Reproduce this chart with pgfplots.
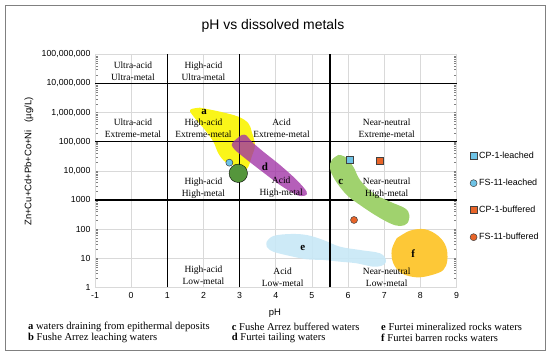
\documentclass[border=0pt]{standalone}
\usepackage{pgfplots}
\pgfplotsset{compat=1.18}
\usepackage{fontspec}
\setmainfont{Liberation Serif}
\setsansfont{Liberation Sans}
\newfontfamily\arial{Liberation Sans}
\definecolor{ya}{RGB}{250,245,25}
\definecolor{pd}{RGB}{160,50,165}
\definecolor{gb}{RGB}{85,150,60}
\definecolor{gc}{RGB}{160,210,110}
\definecolor{be}{RGB}{200,232,246}
\definecolor{of}{RGB}{253,200,55}
\definecolor{mblue}{RGB}{110,195,230}
\definecolor{morange}{RGB}{232,100,40}
\definecolor{gridc}{RGB}{217,217,217}
\begin{document}
\begin{tikzpicture}[x=1bp,y=1bp]
\useasboundingbox (0,0) rectangle (550,356);
\draw[gray, line width=0.8bp] (5,5.5) rectangle (545,350.5);
\node[font=\arial\fontsize{14}{16}\selectfont] at (273,330) {pH vs dissolved metals};
\node[font=\arial\fontsize{9.5}{11}\selectfont] at (275,43) {pH};
\node[font=\arial\fontsize{9.5}{11}\selectfont, rotate=90] at (29,194.5) {Zn+Cu+Cd+Pb+Co+Ni\ \ \ (µg/L)};
\begin{axis}[at={(95bp,68.7bp)}, anchor=south west, scale only axis,
  width=361.5bp, height=233bp,
  xmin=-1, xmax=9, ymin=1, ymax=1e8, ymode=log,
  xtick={-1,0,...,9}, xticklabels={-1,0,1,2,3,4,5,6,7,8,9},
  ytick={1,10,100,1000,10000,100000,1000000,10000000,100000000},
  yticklabels={1,10,100,1000,{10,000},{100,000},{1,000,000},{10,000,000},{100,000,000}},
  grid=major, major grid style={gridc, line width=0.6bp},
  axis line style={gridc, line width=0.6bp},
  major tick length=0pt, minor tick num=0,
  tick label style={font=\arial\fontsize{8.8}{10}\selectfont},
  /pgf/number format/assume math mode=true,
  xticklabel style={yshift=-2bp},
  yticklabel style={xshift=-1bp},
  legend style={draw=none, fill=none, at={(1.037,0.585)}, anchor=north west,
    font=\arial\fontsize{9}{10}\selectfont, row sep=17bp, column sep=1.5bp,
    inner sep=0pt, nodes={inner sep=0.5bp, text height=7bp, text depth=2bp}},
  legend cell align=left,
  legend image code/.code={\draw[#1] plot coordinates {(0bp,0bp)};},
  clip=false
]
% blob a
\addplot[draw=none, fill=ya, smooth, tension=0.6, forget plot] coordinates {
(1.905,1.47e6) (2.458,1.07e6) (2.964,7.23e5) (3.241,4.29e5) (3.335,2.20e5) (3.426,7.71e4) (3.335,3.05e4) (3.241,1.38e4) (3.149,1.07e4) (3.011,1.22e4) (2.826,1.58e4) (2.596,2.06e4) (2.411,4.00e4) (2.272,1.0e5) (2.043,2.52e5) (1.766,6.37e5) (1.628,1.23e6) (1.905,1.47e6)} -- cycle;
% blob e
\addplot[draw=none, fill=be, fill opacity=0.9, smooth, tension=0.6, forget plot] coordinates {
(3.750,36.8) (3.932,57.8) (4.394,67.6) (4.856,62.5) (5.315,42.1) (5.777,24.8) (6.331,19.1) (6.884,14.7) (7.050,8.66) (6.975,5.83) (6.698,5.10) (6.239,6.67) (5.777,7.57) (5.315,8.66) (4.856,9.15) (4.394,11.9) (3.932,16.7) (3.750,24.8) (3.750,36.8)} -- cycle;
% blob f
\addplot[draw=none, fill=of, smooth, tension=0.6, forget plot] coordinates {
(7.346,48.2) (7.714,87.9) (8.129,98.2) (8.497,57.8) (8.710,24.8) (8.746,8.66) (8.635,3.93) (8.314,2.64) (7.899,2.20) (7.484,3.03) (7.252,6.67) (7.207,19.1) (7.346,48.2)} -- cycle;
% thick division lines
\addplot[black, line width=1.3bp, forget plot] coordinates {(1,1) (1,1e8)};
\addplot[black, line width=1.3bp, forget plot] coordinates {(3,1) (3,1e8)};
\addplot[black, line width=1.3bp, forget plot] coordinates {(5.5,1) (5.5,1e8)};
\addplot[black, line width=1.3bp, forget plot] coordinates {(-1,1000) (9,1000)};
\addplot[black, line width=1.3bp, forget plot] coordinates {(-1,1e5) (9,1e5)};
\addplot[black, line width=1.3bp, forget plot] coordinates {(-1,1e7) (9,1e7)};
% blob d
\addplot[draw=none, fill=pd, fill opacity=0.78, smooth, tension=0.5, forget plot] coordinates {
(2.826,1.0e5) (3.058,1.70e5) (3.196,1.61e5) (3.335,1.0e5) (3.656,4.54e4) (4.118,1.58e4) (4.580,4.84e3) (4.856,1.92e3) (4.809,1.40e3) (4.580,1.48e3) (4.118,3.26e3) (3.564,1.07e4) (3.149,2.69e4) (2.873,5.18e4) (2.781,7.71e4) (2.826,1.0e5)} -- cycle;
% blob b
\addplot[only marks, mark=*, mark size=9.2bp, mark options={draw=none, fill=gb}, forget plot] coordinates {(2.964,8.2e3)};
% blob c
\addplot[draw=none, fill=gc, smooth, tension=0.6, forget plot] coordinates {
(5.730,3.49e4) (5.916,3.05e4) (6.145,1.38e4) (6.331,4.84e3) (6.698,1.69e3) (7.160,871) (7.575,516) (7.694,304) (7.639,158) (7.437,127) (7.160,158) (6.745,304) (6.331,670) (5.963,1.48e3) (5.639,4.84e3) (5.500,1.22e4) (5.548,2.35e4) (5.730,3.49e4)} -- cycle;
% sample markers
\addplot[only marks, mark=square*, mark size=3.5bp, mark options={fill=mblue, draw=black!75, line width=0.5bp}] coordinates {(6.035,2.35e4)};
\addlegendentry{CP-1-leached}
\addplot[only marks, mark=*, mark size=3.5bp, mark options={fill=mblue, draw=black!75, line width=0.5bp}] coordinates {(2.716,1.90e4)};
\addlegendentry{FS-11-leached}
\addplot[only marks, mark=square*, mark size=3.5bp, mark options={fill=morange, draw=black!75, line width=0.5bp}] coordinates {(6.865,2.3e4)};
\addlegendentry{CP-1-buffered}
\addplot[only marks, mark=*, mark size=3.5bp, mark options={fill=morange, draw=black!75, line width=0.5bp}] coordinates {(6.165,205)};
\addlegendentry{FS-11-buffered}
% region labels
\begin{scope}[every node/.style={align=center, font=\fontsize{9.5}{12}\selectfont, inner sep=0pt}]
\node at (axis cs:0.05,2.63e7) {Ultra-acid\\Ultra-metal};
\node at (axis cs:2.0,2.63e7) {High-acid\\Ultra-metal};
\node at (axis cs:0.05,2.95e5) {Ultra-acid\\Extreme-metal};
\node at (axis cs:2.0,2.95e5) {High-acid\\Extreme-metal};
\node at (axis cs:4.16,2.8e5) {Acid\\Extreme-metal};
\node at (axis cs:7.07,2.9e5) {Near-neutral\\Extreme-metal};
\node at (axis cs:2.0,2.6e3) {High-acid\\High-metal};
\node at (axis cs:4.15,2.8e3) {Acid\\High-metal};
\node at (axis cs:7.07,2.6e3) {Near-neutral\\High-metal};
\node at (axis cs:2.0,2.6) {High-acid\\Low-metal};
\node at (axis cs:4.19,2.26) {Acid\\Low-metal};
\node at (axis cs:7.07,2.26) {Near-neutral\\Low-metal};
\end{scope}
\begin{scope}[every node/.style={font=\bfseries\fontsize{11}{12}\selectfont, inner sep=0pt}]
\node at (axis cs:2.015,1.02e6) {a};
\node at (axis cs:2.90,8.9e3) {b};
\node at (axis cs:5.80,4.27e3) {c};
\node at (axis cs:3.70,1.38e4) {d};
\node at (axis cs:4.745,21.8) {e};
\node at (axis cs:7.805,14.7) {f};
\end{scope}
\end{axis}
\begin{scope}[every node/.style={anchor=west, inner sep=0pt, font=\fontsize{10.6}{12}\selectfont}]
\node at (28,29.3) {\textbf{a} waters draining from epithermal deposits};
\node at (28,17.7) {\textbf{b} Fushe Arrez leaching waters};
\node at (231.7,29.3) {\textbf{c} Fushe Arrez buffered waters};
\node at (231.7,17.7) {\textbf{d} Furtei tailing waters};
\node at (381,29.3) {\textbf{e} Furtei mineralized rocks waters};
\node at (381,17.7) {\textbf{f} Furtei barren rocks waters};
\end{scope}
\end{tikzpicture}
\end{document}
